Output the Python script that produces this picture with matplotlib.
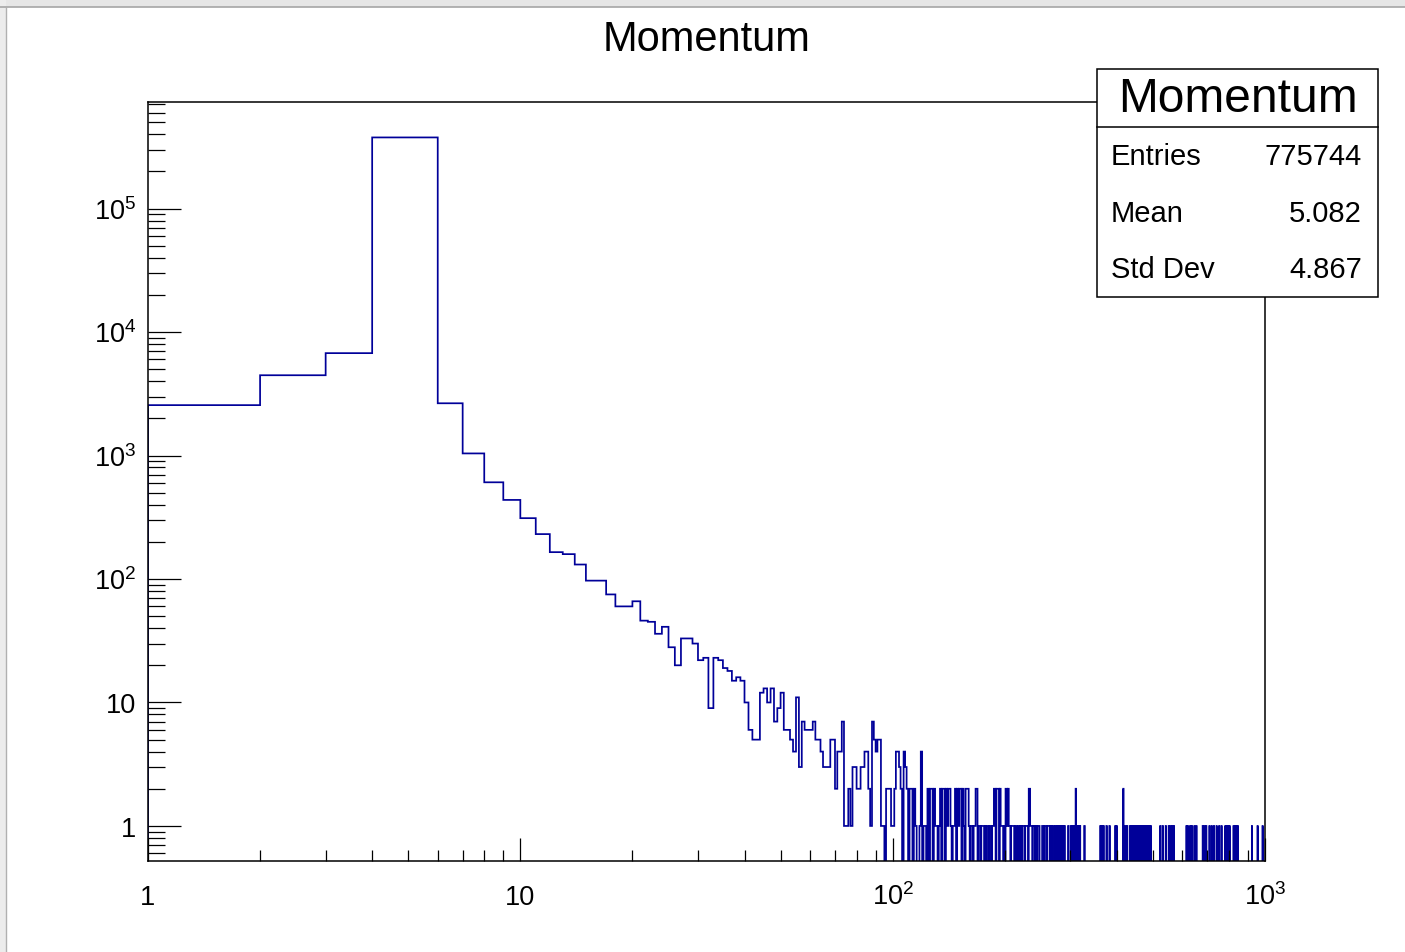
import numpy as np
import matplotlib
matplotlib.use("Agg")
import matplotlib.pyplot as plt
from matplotlib.patches import Rectangle
from matplotlib.lines import Line2D
from matplotlib.ticker import LogLocator, NullFormatter, FixedLocator
from matplotlib.transforms import offset_copy

plt.rcParams['font.family'] = ['Liberation Sans', 'DejaVu Sans']
plt.rcParams['mathtext.fontset'] = 'custom'
plt.rcParams['mathtext.rm'] = 'Liberation Sans'
plt.rcParams['mathtext.it'] = 'Liberation Sans:italic'
plt.rcParams['mathtext.default'] = 'rm'

#-----------------------------------------------------------------------------
# Histogram data: unit-width bins, bin i covers [i, i+1)
first_bin = 1
last_edge = 1000

# bins 1 .. 99
counts_low = [2560, 4470, 6750, 377000, 377000, 2650, 1040, 607, 437,
              311, 231, 165, 159, 131, 97, 97, 75, 60, 60,
              66, 46, 45, 36, 41, 28, 20, 33, 33, 30,
              22, 23, 9, 23, 22, 19, 18, 15, 16, 15,
              10, 6, 5, 5, 12, 13, 10, 13, 7, 9,
              12, 6, 6, 5, 4, 11, 3, 7, 6, 6,
              6, 7, 5, 5, 4, 3, 3, 3, 5, 5,
              2, 4, 4, 7, 1, 1, 2, 1, 3, 3,
              2, 2, 3, 3, 4, 4, 2, 1, 7, 5,
              4, 5, 5, 1, 1, 0, 2, 2, 2, 1]

# bins 100 .. 318
counts_mid = [1, 2, 4, 4, 3, 2, 0, 4, 3, 2,
              0, 2, 2, 0, 2, 1, 0, 0, 1, 4,
              0, 1, 1, 0, 2, 0, 2, 2, 0, 2,
              1, 1, 0, 1, 2, 0, 2, 2, 0, 2,
              1, 2, 2, 1, 0, 1, 1, 2, 0, 2,
              1, 2, 2, 0, 2, 1, 0, 2, 2, 2,
              1, 0, 1, 1, 0, 1, 1, 2, 2, 0,
              1, 1, 0, 1, 1, 1, 0, 1, 0, 1,
              1, 0, 1, 1, 0, 1, 1, 2, 2, 0,
              2, 2, 2, 0, 2, 1, 1, 1, 0, 1,
              0, 2, 2, 1, 2, 1, 1, 0, 1, 1,
              1, 1, 0, 1, 1, 0, 0, 1, 1, 0,
              1, 1, 0, 1, 1, 1, 0, 1, 1, 1,
              1, 0, 2, 2, 1, 1, 1, 0, 1, 1,
              1, 0, 1, 1, 0, 1, 1, 1, 0, 0,
              0, 0, 1, 1, 1, 0, 1, 1, 1, 0,
              1, 1, 1, 1, 0, 1, 1, 0, 1, 1,
              1, 0, 0, 1, 1, 0, 1, 1, 0, 1,
              1, 0, 1, 1, 1, 0, 1, 1, 0, 1,
              0, 0, 0, 0, 0, 0, 1, 0, 0, 0,
              0, 1, 0, 1, 0, 1, 1, 0, 1, 0,
              2, 1, 0, 1, 1, 0, 1, 0, 1]

# sparse tail above 318: bins holding one entry, and bins holding two
tail_ones = [327, 361, 363, 364, 366, 368, 375, 382, 396, 399,
             421, 426, 434, 436, 439, 441, 444, 447, 449, 452,
             455, 458, 461, 463, 466, 469, 472, 475, 477, 478,
             481, 484, 487, 489, 493, 523, 531, 541, 551, 557,
             563, 569, 615, 620, 629, 636, 646, 654, 680, 688,
             695, 709, 719, 729, 741, 753, 764, 782, 786, 790,
             794, 799, 803, 823, 830, 838, 845, 922, 955, 985]
tail_twos = [416]

stats_labels = ["Entries", "Mean", "Std Dev"]
stats_values = ["775744", "5.082", "4.867"]

x_ticks = [1, 10, 100, 1000]
x_tick_labels = ["1", "10", "$10^{2}$", "$10^{3}$"]
y_ticks = [1, 10, 100, 1000, 1e4, 1e5]
y_tick_labels = ["1", "10", "$10^{2}$", "$10^{3}$", "$10^{4}$", "$10^{5}$"]

#-----------------------------------------------------------------------------
edges = np.arange(first_bin, last_edge + 1)
counts = np.zeros(len(edges) - 1)
counts[0:len(counts_low)] = counts_low
counts[len(counts_low):len(counts_low) + len(counts_mid)] = counts_mid
for b in tail_ones:
    counts[b - first_bin] = 1
for b in tail_twos:
    counts[b - first_bin] = 2

W, H = 1405, 953
fig = plt.figure(figsize=(W / 100, H / 100), dpi=100)
fig.patch.set_facecolor("white")

def fx(px):
    return px / W

def fy(py):
    return 1 - py / H

# window chrome
fig.patches.append(Rectangle((0, fy(8)), 1, 8 / H, transform=fig.transFigure,
                             facecolor="#e6e6e6", edgecolor="none", zorder=1))
fig.lines.append(Line2D([0, 1], [fy(8), fy(8)], transform=fig.transFigure,
                        color="#a6a6a6", lw=1.2, zorder=2))
fig.patches.append(Rectangle((0, 0), fx(6), 1, transform=fig.transFigure,
                             facecolor="#ececec", edgecolor="none", zorder=1))
fig.lines.append(Line2D([fx(6.5), fx(6.5)], [0, fy(8)], transform=fig.transFigure,
                        color="#b0b0b0", lw=1.0, zorder=2))

ax = fig.add_axes([fx(148), fy(862), fx(1265) - fx(148), fy(103) - fy(862)])
ax.set_xscale("log")
ax.set_yscale("log", nonpositive="clip")
ax.stairs(counts, edges, color="#000099", lw=1.25)
ax.set_xlim(1, 1000)
ax.set_ylim(0.52, 7.3e5)

for s in ax.spines.values():
    s.set_linewidth(1.1)

ax.xaxis.set_major_locator(FixedLocator(x_ticks))
ax.xaxis.set_minor_locator(LogLocator(base=10, subs=np.arange(2, 10), numticks=20))
ax.yaxis.set_major_locator(FixedLocator(y_ticks))
ax.yaxis.set_minor_locator(LogLocator(base=10, subs=np.arange(2, 10), numticks=20))
ax.xaxis.set_minor_formatter(NullFormatter())
ax.yaxis.set_minor_formatter(NullFormatter())
ax.tick_params(which="both", direction="in", top=False, right=False,
               labelbottom=False, labelleft=False, width=0.9, color="black")
ax.tick_params(axis="y", which="major", length=24)
ax.tick_params(axis="y", which="minor", length=12)
ax.tick_params(axis="x", which="major", length=16.4)
ax.tick_params(axis="x", which="minor", length=8.2)

# tick labels, baseline aligned like ROOT
xtr = offset_copy(ax.get_xaxis_transform(), fig=fig, y=-43, units="dots")
for v, lab in zip(x_ticks, x_tick_labels):
    ax.text(v, 0, lab, transform=xtr, ha="center", va="baseline", fontsize=19.5)
ytr = offset_copy(ax.get_yaxis_transform(), fig=fig, x=-12, y=-10, units="dots")
for v, lab in zip(y_ticks, y_tick_labels):
    ax.text(0, v, lab, transform=ytr, ha="right", va="baseline", fontsize=19.5)

fig.text(fx(707), fy(40), "Momentum", ha="center", va="center", fontsize=30)

# stats box
bx0, bx1, by0, by1, bsep = 1097, 1378, 69.5, 297.5, 127.5
fig.patches.append(Rectangle((fx(bx0), fy(by1)), fx(bx1) - fx(bx0), fy(by0) - fy(by1),
                             transform=fig.transFigure, facecolor="white",
                             edgecolor="black", lw=1.1, zorder=5))
fig.lines.append(Line2D([fx(bx0), fx(bx1)], [fy(bsep), fy(bsep)],
                        transform=fig.transFigure, color="black", lw=1.1, zorder=6))
fig.text(fx((bx0 + bx1) / 2), fy(99), "Momentum", ha="center", va="center",
         fontsize=34.5, zorder=7)
for i, (lab, val) in enumerate(zip(stats_labels, stats_values)):
    yy = fy(157 + 56.5 * i)
    fig.text(fx(1111), yy, lab, ha="left", va="center", fontsize=21, zorder=7)
    fig.text(fx(1362), yy, val, ha="right", va="center", fontsize=21, zorder=7)

fig.savefig("out.png", dpi=100)
